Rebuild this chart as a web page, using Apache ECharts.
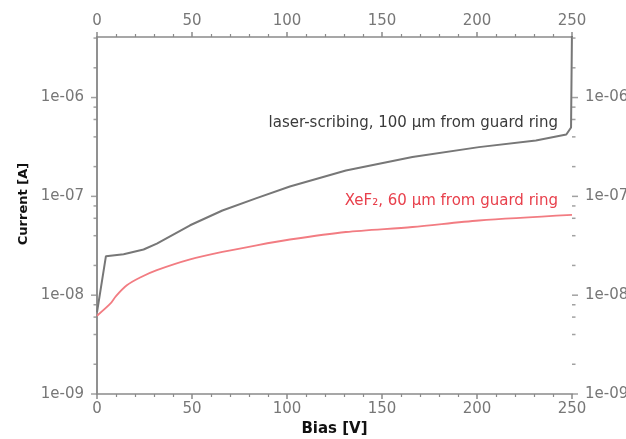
<!DOCTYPE html>
<html>
<head>
<meta charset="utf-8">
<script src="https://cdn.jsdelivr.net/npm/echarts@6/dist/echarts.min.js"></script>
<style>
  html, body { margin: 0; padding: 0; background: #fff; }
  #chart { width: 626px; height: 439px; }
</style>
</head>
<body>
<div id="chart"></div>
<script>
// bias [V] and current [A]
const laserBias = [0, 4.7, 14, 24.5, 31.5, 49, 66, 84, 101.5, 131, 166, 201, 231, 247, 249.5, 250];
const laserCurrent = [6.7e-9, 2.48e-8, 2.6e-8, 2.9e-8, 3.33e-8, 5.1e-8, 7.2e-8, 9.6e-8, 1.26e-7, 1.83e-7, 2.5e-7, 3.15e-7, 3.68e-7, 4.23e-7, 4.98e-7, 5e-6];
const xefBias = [0, 7, 10, 15.7, 22.7, 31.5, 49, 66, 84, 101.5, 131, 166, 201, 250];
const xefCurrent = [6.2e-9, 8.2e-9, 9.8e-9, 1.26e-8, 1.51e-8, 1.79e-8, 2.3e-8, 2.74e-8, 3.2e-8, 3.66e-8, 4.36e-8, 4.9e-8, 5.7e-8, 6.5e-8];

const decades = [1e-9, 1e-8, 1e-7, 1e-6];
const minorSteps = [2, 4, 6, 8];
const yMin = 1e-9, yMax = 4.1e-6;

const laserData = laserBias.map((b, i) => [b, laserCurrent[i]]);
const xefData = xefBias.map((b, i) => [b, xefCurrent[i]]);

// y-axis ticks on both sides (log minor ticks at 2,4,6,8 per decade)
const majorTickPts = decades.map(v => v);
const minorTickPts = [];
decades.forEach(d => minorSteps.forEach(m => { if (d * m < yMax) minorTickPts.push(d * m); }));

const axisColor = '#8a8a8a';
const labelColor = '#777';
const font = 'DejaVu Sans';

function tickSeries(values, xPos, len, side) {
  return {
    type: 'scatter',
    silent: true,
    clip: false,
    z: 5,
    symbol: 'rect',
    symbolSize: [len, 1.5],
    symbolOffset: [side * len / 2, 0],
    itemStyle: { color: axisColor },
    data: values.map(v => [xPos, v])
  };
}

const chart = echarts.init(document.getElementById('chart'));

const xCommon = {
  type: 'value',
  min: 0,
  max: 250,
  interval: 50,
  axisLine: { show: true, lineStyle: { color: axisColor, width: 1.5 } },
  axisTick: { show: true, length: 5, lineStyle: { color: axisColor, width: 1.5 } },
  minorTick: { show: true, splitNumber: 5, length: 3, lineStyle: { color: axisColor, width: 1.2 } },
  splitLine: { show: false },
  axisLabel: { color: labelColor, fontFamily: font, fontSize: 15, margin: 8 }
};

const yCommon = {
  type: 'log',
  logBase: 10,
  min: yMin,
  max: yMax,
  axisLine: { show: true, lineStyle: { color: axisColor, width: 1.5 } },
  axisTick: { show: false },
  splitLine: { show: false },
  axisLabel: {
    color: labelColor, fontFamily: font, fontSize: 15, margin: 13,
    showMaxLabel: false,
    formatter: v => {
      const e = Math.round(Math.log10(v));
      if (Math.abs(Math.log10(v) - e) > 0.01) return '';
      return '1e-' + String(-e).padStart(2, '0');
    }
  }
};

chart.setOption({
  animation: false,
  backgroundColor: '#fff',
  grid: { left: 97, right: 54, top: 37, bottom: 45, outerBoundsMode: 'none', containLabel: false },
  xAxis: [
    Object.assign({}, xCommon, {
      position: 'bottom',
      name: 'Bias [V]',
      nameLocation: 'middle',
      nameGap: 27,
      nameTextStyle: { color: '#111', fontFamily: font, fontWeight: 'bold', fontSize: 15 }
    }),
    Object.assign({}, xCommon, { position: 'top' })
  ],
  yAxis: [
    Object.assign({}, yCommon, { position: 'left' }),
    Object.assign({}, yCommon, { position: 'right' })
  ],
  graphic: [
    {
      type: 'text',
      x: 24, y: 204,
      rotation: Math.PI / 2,
      style: {
        text: 'Current [A]',
        fill: '#111',
        font: 'bold 13px "DejaVu Sans"',
        align: 'center',
        verticalAlign: 'middle'
      }
    },
    {
      type: 'text',
      x: 558, y: 123,
      style: {
        text: 'laser-scribing, 100 µm from guard ring',
        fill: '#3a3a3a',
        font: '15px "DejaVu Sans"',
        align: 'right',
        verticalAlign: 'middle'
      }
    },
    {
      type: 'text',
      x: 558, y: 201,
      style: {
        text: 'XeF₂, 60 µm from guard ring',
        fill: '#e8404c',
        font: '15px "DejaVu Sans"',
        align: 'right',
        verticalAlign: 'middle'
      }
    }
  ],
  series: [
    {
      name: 'laser-scribing',
      type: 'line',
      showSymbol: false,
      symbol: 'none',
      clip: true,
      data: laserData,
      lineStyle: { color: '#777', width: 2 },
      z: 3
    },
    {
      name: 'XeF2',
      type: 'line',
      showSymbol: false,
      symbol: 'none',
      smooth: 0.3,
      data: xefData,
      lineStyle: { color: '#f27c82', width: 1.8 },
      z: 3
    },
    tickSeries(majorTickPts, 0, 6, -1),
    tickSeries(minorTickPts, 0, 3.5, -1),
    tickSeries(majorTickPts, 250, 6, 1),
    tickSeries(minorTickPts, 250, 3.5, 1)
  ]
});
</script>
</body>
</html>
